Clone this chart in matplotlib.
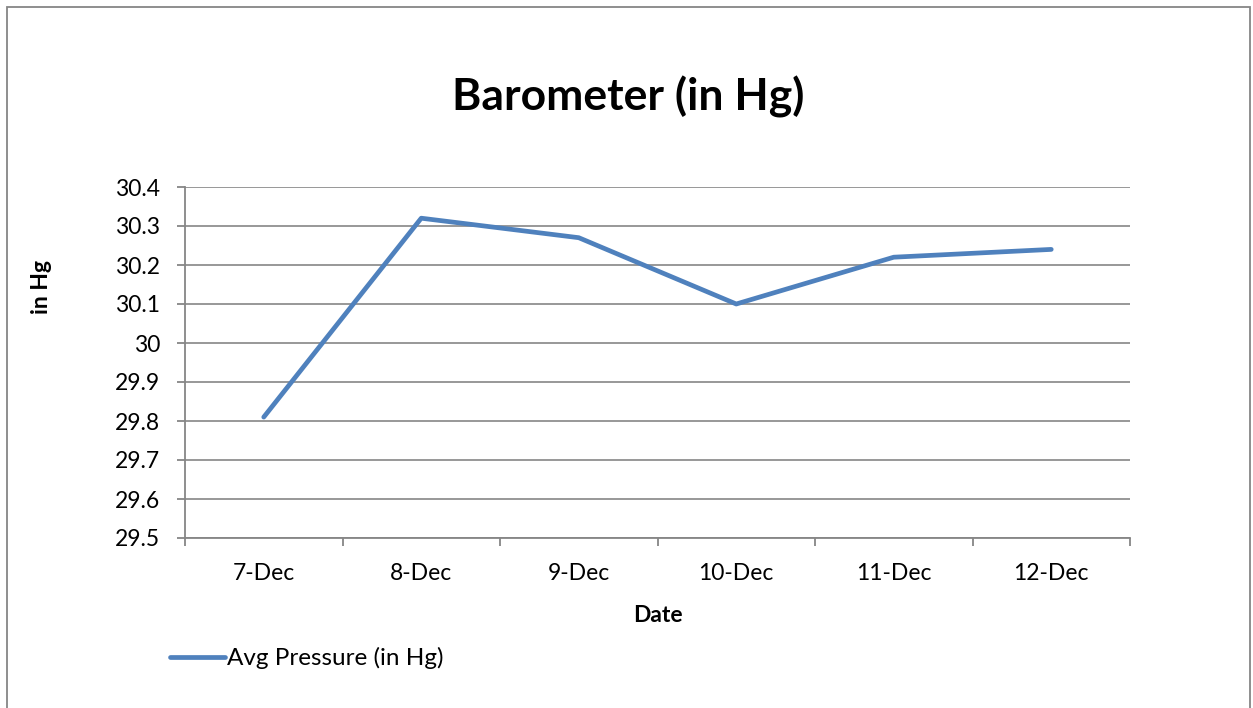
import matplotlib.pyplot as plt
from matplotlib.patches import Rectangle
from matplotlib.lines import Line2D

# Data
dates = ['7-Dec', '8-Dec', '9-Dec', '10-Dec', '11-Dec', '12-Dec']
pressure = [29.81, 30.32, 30.27, 30.10, 30.22, 30.24]
y_ticks = [29.5, 29.6, 29.7, 29.8, 29.9, 30.0, 30.1, 30.2, 30.3, 30.4]
y_labels = ['29.5', '29.6', '29.7', '29.8', '29.9', '30', '30.1', '30.2', '30.3', '30.4']

plt.rcParams['font.family'] = ['Lato', 'DejaVu Sans']
line_color = '#4F81BD'
grid_color = '#868686'
fs = 16.5

fig = plt.figure(figsize=(12.53, 7.08), dpi=100)
ax = fig.add_axes([185 / 1253, 1 - 538 / 708, 945 / 1253, 351 / 708])

x = list(range(len(dates)))
ax.plot(x, pressure, color=line_color, linewidth=3.4, solid_capstyle='round',
        solid_joinstyle='round', zorder=3)

ax.set_xlim(-0.5, len(dates) - 0.5)
ax.set_ylim(29.5, 30.4)

# category labels at centres, tick marks at boundaries
ax.set_xticks(x)
ax.set_xticklabels(dates, fontsize=fs)
ax.set_xticks([i - 0.5 for i in range(len(dates) + 1)], minor=True)
ax.tick_params(axis='x', which='major', length=0, pad=18)
ax.tick_params(axis='x', which='minor', length=6, width=1.3, color=grid_color, direction='out')

ax.set_yticks(y_ticks)
ax.set_yticklabels(y_labels, fontsize=fs)
ax.tick_params(axis='y', length=6, width=1.3, color=grid_color, direction='out', pad=12)

ax.grid(axis='y', color=grid_color, linewidth=1.2)
ax.set_axisbelow(True)
for s in ['top', 'right']:
    ax.spines[s].set_visible(False)
for s in ['left', 'bottom']:
    ax.spines[s].set_color(grid_color)
    ax.spines[s].set_linewidth(1.3)

ax.set_xlabel('Date', fontsize=fs, fontweight='bold', labelpad=15)
ax.set_ylabel('in Hg', fontsize=fs, fontweight='bold')
ax.yaxis.set_label_coords((52 - 185) / 945, 0.715)

fig.text(628 / 1253, 1 - 97 / 708, 'Barometer (in Hg)', fontsize=32, fontweight='bold',
         ha='center', va='center')

# legend below the plot
fig.legend([Line2D([0], [0], color=line_color, linewidth=3.4, solid_capstyle='round')],
           ['Avg Pressure (in Hg)'], loc='center left',
           bbox_to_anchor=(170 / 1253, 1 - 658 / 708), frameon=False, fontsize=17.5,
           handlelength=2.25, handletextpad=0.1, borderpad=0, borderaxespad=0)

# outer chart border
fig.patches.append(Rectangle((7 / 1253, -0.05), 1243 / 1253, 1.05 - 7 / 708,
                             transform=fig.transFigure, fill=False,
                             edgecolor=grid_color, linewidth=1.3))

fig.savefig('out.png', dpi=100)
